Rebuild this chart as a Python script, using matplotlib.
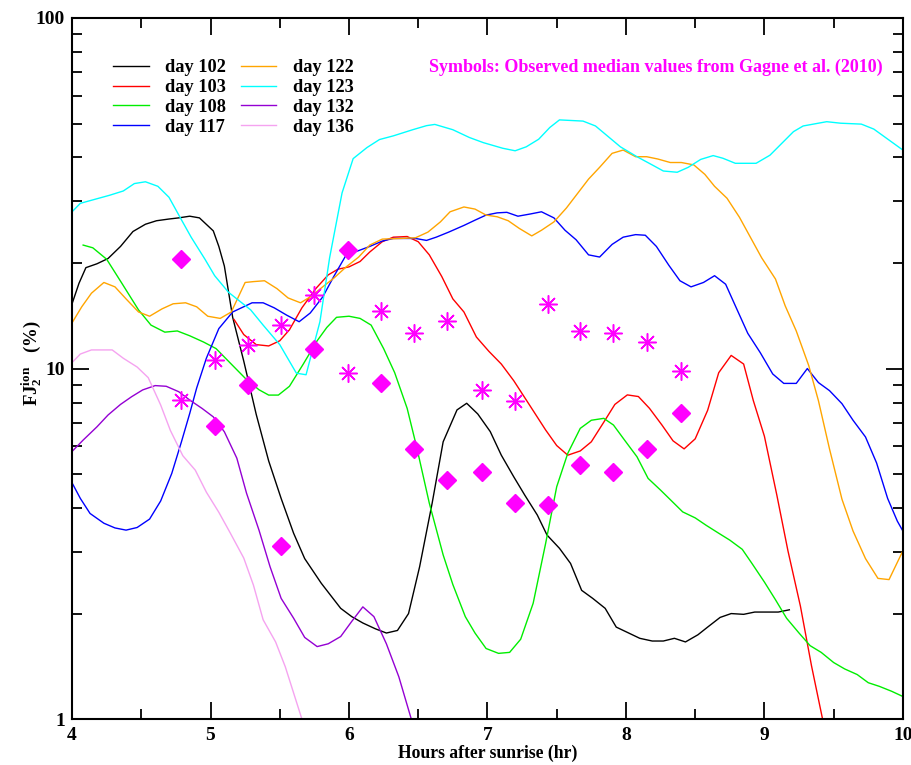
import matplotlib
matplotlib.use('Agg')
import matplotlib.pyplot as plt
from matplotlib.ticker import FixedLocator, NullFormatter, FixedFormatter, MultipleLocator

plt.rcParams['font.family'] = 'Liberation Serif'
plt.rcParams['font.weight'] = 'bold'
plt.rcParams['mathtext.fontset'] = 'custom'
plt.rcParams['mathtext.rm'] = 'Liberation Serif:bold'
plt.rcParams['mathtext.it'] = 'Liberation Serif:bold'
plt.rcParams['mathtext.bf'] = 'Liberation Serif:bold'

# model curves (hours after sunrise, FJ2 ion %)
h102 = [4.0, 4.05, 4.10, 4.18, 4.26, 4.35, 4.44, 4.53, 4.61, 4.70, 4.77, 4.85, 4.92, 5.02, 5.06, 5.10,
        5.16, 5.24, 5.33, 5.42, 5.51, 5.60, 5.68, 5.80, 5.94, 6.02, 6.10, 6.19, 6.27, 6.35, 6.43, 6.51,
        6.60, 6.68, 6.78, 6.85, 6.93, 7.02, 7.10, 7.19, 7.27, 7.36, 7.43, 7.52, 7.60, 7.68, 7.76, 7.85,
        7.93, 8.02, 8.10, 8.19, 8.27, 8.35, 8.43, 8.52, 8.59, 8.68, 8.76, 8.85, 8.93, 9.02, 9.10, 9.18]
v102 = [15.3, 17.5, 19.4, 19.9, 20.6, 22.3, 24.6, 25.8, 26.4, 26.7, 26.9, 27.2, 26.9, 24.7, 22.3, 19.6,
        14.0, 10.5, 7.4, 5.45, 4.26, 3.39, 2.87, 2.44, 2.07, 1.96, 1.88, 1.81, 1.76, 1.79, 2.0, 2.72,
        4.12, 6.18, 7.62, 7.96, 7.42, 6.61, 5.66, 4.91, 4.35, 3.82, 3.35, 3.07, 2.78, 2.33, 2.21, 2.07,
        1.83, 1.76, 1.70, 1.67, 1.67, 1.70, 1.66, 1.74, 1.83, 1.95, 2.0, 1.99, 2.02, 2.02, 2.02, 2.05]

h103 = [5.17, 5.24, 5.33, 5.42, 5.50, 5.57, 5.66, 5.76, 5.85, 5.92, 6.00, 6.08, 6.15, 6.24, 6.32, 6.42,
        6.50, 6.58, 6.67, 6.75, 6.83, 6.92, 7.01, 7.10, 7.19, 7.31, 7.42, 7.50, 7.58, 7.67, 7.75, 7.84,
        7.92, 8.01, 8.09, 8.17, 8.26, 8.34, 8.42, 8.50, 8.59, 8.67, 8.76, 8.85, 8.92, 9.00, 9.09, 9.17,
        9.26, 9.34, 9.42, 9.46]
v103 = [13.8, 12.5, 11.7, 11.6, 12.0, 12.9, 14.9, 16.9, 18.5, 19.2, 19.5, 20.2, 21.5, 23.0, 23.7, 23.8,
        23.0, 21.1, 18.3, 15.8, 14.5, 12.3, 11.2, 10.3, 9.23, 7.8, 6.68, 6.03, 5.66, 5.82, 6.18, 7.03,
        7.9, 8.41, 8.32, 7.7, 6.9, 6.22, 5.9, 6.3, 7.6, 9.73, 10.9, 10.3, 8.1, 6.41, 4.35, 3.02,
        2.10, 1.42, 1.0, 0.85]

h108 = [4.08, 4.15, 4.25, 4.36, 4.48, 4.57, 4.67, 4.76, 4.85, 4.95, 5.04, 5.16, 5.26, 5.35, 5.42, 5.49,
        5.57, 5.67, 5.77, 5.84, 5.91, 6.00, 6.08, 6.16, 6.25, 6.33, 6.42, 6.49, 6.58, 6.68, 6.75, 6.84,
        6.91, 6.99, 7.08, 7.16, 7.24, 7.33, 7.42, 7.50, 7.58, 7.67, 7.75, 7.84, 7.91, 7.99, 8.08, 8.16,
        8.25, 8.33, 8.41, 8.50, 8.58, 8.67, 8.75, 8.84, 8.91, 9.00, 9.08, 9.16, 9.25, 9.33, 9.41, 9.50,
        9.58, 9.67, 9.75, 9.83, 9.92, 10.0]
v108 = [22.5, 22.1, 20.5, 17.5, 14.7, 13.3, 12.7, 12.8, 12.4, 11.9, 11.4, 10.2, 9.3, 8.7, 8.4, 8.4,
        8.9, 10.3, 12.0, 13.1, 14.0, 14.1, 13.9, 13.3, 11.4, 9.73, 7.7, 5.94, 4.13, 2.94, 2.42, 1.96,
        1.76, 1.59, 1.54, 1.55, 1.69, 2.14, 3.17, 4.6, 5.73, 6.75, 7.12, 7.21, 6.9, 6.25, 5.6, 4.86,
        4.5, 4.19, 3.9, 3.75, 3.57, 3.39, 3.24, 3.05, 2.78, 2.46, 2.19, 1.94, 1.76, 1.62, 1.55, 1.45,
        1.39, 1.34, 1.27, 1.24, 1.2, 1.16]

h117 = [4.0, 4.06, 4.13, 4.23, 4.31, 4.39, 4.47, 4.56, 4.64, 4.72, 4.79, 4.85, 4.90, 4.97, 5.06, 5.16,
        5.30, 5.38, 5.46, 5.55, 5.64, 5.72, 5.81, 5.89, 5.98, 6.07, 6.15, 6.24, 6.32, 6.48, 6.56, 6.63,
        6.72, 6.83, 6.91, 6.99, 7.07, 7.14, 7.22, 7.31, 7.39, 7.48, 7.56, 7.64, 7.73, 7.81, 7.90, 7.98,
        8.07, 8.14, 8.22, 8.31, 8.39, 8.47, 8.56, 8.64, 8.72, 8.80, 8.88, 8.97, 9.06, 9.14, 9.23, 9.31,
        9.39, 9.47, 9.56, 9.64, 9.73, 9.81, 9.89, 9.96, 10.0]
v117 = [4.72, 4.26, 3.86, 3.62, 3.51, 3.46, 3.52, 3.72, 4.19, 5.02, 6.18, 7.45, 8.8, 10.7, 13.0, 14.5,
        15.4, 15.4, 14.9, 14.2, 13.6, 14.4, 16.0, 18.3, 21.1, 21.7, 22.3, 23.1, 23.5, 23.5, 23.2, 23.7,
        24.5, 25.6, 26.5, 27.4, 27.8, 27.9, 27.2, 27.6, 28.0, 26.9, 24.8, 23.3, 21.1, 20.8, 22.6, 23.7,
        24.1, 24.0, 22.3, 19.7, 17.8, 17.1, 17.6, 18.4, 17.4, 14.8, 12.6, 11.1, 9.65, 9.07, 9.07, 10.0,
        9.12, 8.65, 7.94, 7.12, 6.38, 5.38, 4.26, 3.67, 3.44]

h122 = [4.0, 4.07, 4.14, 4.23, 4.31, 4.39, 4.48, 4.56, 4.65, 4.73, 4.82, 4.90, 4.98, 5.07, 5.15, 5.25,
        5.31, 5.39, 5.48, 5.56, 5.65, 5.73, 5.81, 5.89, 5.98, 6.07, 6.15, 6.24, 6.37, 6.48, 6.57, 6.66,
        6.73, 6.83, 6.91, 6.99, 7.07, 7.15, 7.23, 7.32, 7.39, 7.48, 7.57, 7.73, 7.81, 7.90, 7.98, 8.07,
        8.15, 8.23, 8.32, 8.40, 8.49, 8.57, 8.64, 8.73, 8.82, 8.98, 9.08, 9.15, 9.23, 9.32, 9.39, 9.47,
        9.56, 9.64, 9.73, 9.82, 9.90, 10.0]
v122 = [13.5, 15.0, 16.4, 17.6, 17.1, 15.8, 14.5, 14.1, 14.8, 15.3, 15.4, 15.0, 14.1, 13.9, 14.5, 17.6,
        17.7, 17.8, 16.9, 15.9, 15.4, 16.1, 17.1, 18.1, 19.5, 20.8, 22.5, 23.4, 23.5, 23.6, 24.5, 26.2,
        28.0, 28.9, 28.5, 27.4, 27.1, 26.4, 25.1, 23.9, 24.8, 26.2, 28.7, 34.7, 37.5, 41.1, 42.0, 40.2,
        40.2, 39.6, 38.7, 38.7, 38.1, 35.8, 33.1, 30.6, 27.0, 20.7, 18.0, 15.1, 12.8, 10.2, 8.1, 5.9,
        4.24, 3.44, 2.87, 2.52, 2.50, 3.02]

h123 = [4.0, 4.06, 4.27, 4.37, 4.45, 4.53, 4.62, 4.70, 4.78, 4.86, 4.96, 5.03, 5.13, 5.29, 5.38, 5.50,
        5.62, 5.69, 5.79, 5.86, 5.95, 6.03, 6.13, 6.22, 6.32, 6.46, 6.56, 6.62, 6.75, 6.87, 6.97, 7.11,
        7.20, 7.28, 7.37, 7.45, 7.52, 7.69, 7.78, 7.86, 7.96, 8.08, 8.20, 8.27, 8.37, 8.45, 8.54, 8.63,
        8.70, 8.79, 8.94, 9.04, 9.21, 9.28, 9.45, 9.55, 9.70, 9.79, 10.0]
v123 = [28.0, 29.6, 31.2, 32.1, 33.7, 34.1, 33.1, 30.8, 27.0, 23.7, 20.5, 18.4, 16.5, 14.7, 13.3, 11.7,
        9.7, 9.6, 13.6, 20.7, 31.7, 39.7, 42.7, 45.0, 46.1, 48.0, 49.3, 49.7, 48.0, 45.6, 44.1, 42.5,
        41.8, 42.9, 45.1, 48.7, 51.2, 50.8, 49.2, 46.3, 42.9, 40.2, 37.9, 36.6, 36.3, 37.5, 39.5, 40.5,
        39.8, 38.5, 38.5, 40.6, 47.4, 49.2, 50.6, 50.1, 49.8, 48.2, 42.0]

h132 = [4.0, 4.08, 4.18, 4.26, 4.35, 4.43, 4.51, 4.60, 4.68, 4.77, 4.85, 4.94, 5.02, 5.10, 5.19, 5.26,
        5.35, 5.43, 5.51, 5.60, 5.68, 5.77, 5.85, 5.94, 6.02, 6.10, 6.18, 6.27, 6.36, 6.45, 6.47]
v132 = [5.8, 6.25, 6.82, 7.37, 7.9, 8.31, 8.69, 8.94, 8.9, 8.59, 8.13, 7.69, 7.28, 6.6, 5.55, 4.41,
        3.46, 2.72, 2.21, 1.94, 1.71, 1.61, 1.64, 1.72, 1.90, 2.09, 1.96, 1.64, 1.32, 1.0, 0.93]

h136 = [4.0, 4.06, 4.14, 4.29, 4.37, 4.47, 4.55, 4.64, 4.71, 4.80, 4.89, 4.97, 5.06, 5.14, 5.24, 5.31,
        5.38, 5.47, 5.54, 5.66, 5.68]
v136 = [10.4, 11.0, 11.3, 11.3, 10.7, 10.1, 9.42, 7.87, 6.66, 5.64, 5.13, 4.44, 3.89, 3.41, 2.88, 2.41,
        1.92, 1.66, 1.41, 1.0, 0.95]

# observed medians (Gagne et al. 2010)
obs_hours = [4.79, 5.03, 5.27, 5.51, 5.75, 5.99, 6.23, 6.47, 6.71, 6.96, 7.20, 7.44, 7.67, 7.91, 8.15, 8.40]
obs_diamond = [20.5, 6.86, 9.0, 3.12, 11.4, 21.8, 9.1, 5.89, 4.81, 5.08, 4.14, 4.08, 5.31, 5.08, 5.88, 7.45]
obs_star = [8.13, 10.6, 11.7, 13.3, 16.2, 9.7, 14.6, 12.6, 13.7, 8.69, 8.09, 15.3, 12.8, 12.6, 11.9, 9.84]

curves = [
    ('day 102', h102, v102, 'black'),
    ('day 103', h103, v103, '#ff0000'),
    ('day 108', h108, v108, '#00ee00'),
    ('day 117', h117, v117, '#0000ff'),
    ('day 122', h122, v122, '#ffa500'),
    ('day 123', h123, v123, '#00ffff'),
    ('day 132', h132, v132, '#9400d3'),
    ('day 136', h136, v136, '#f5a3f0'),
]

fig = plt.figure(figsize=(9.12, 7.65), dpi=100)
ax = fig.add_axes([0.079, 0.060, 0.911, 0.9165])

for name, h, v, c in curves:
    ax.plot(h, v, color=c, lw=1.0, label=name)

ax.plot(obs_hours, obs_diamond, ls='none', marker='D', ms=9, color='#ff00ff', mec='#ff00ff')
ax.plot(obs_hours, obs_star, ls='none', marker=(8, 2, 0), ms=13, mew=1.1, color='#ff00ff')

ax.set_yscale('log')
ax.set_xlim(4, 10)
ax.set_ylim(1, 100)

ax.xaxis.set_major_locator(MultipleLocator(1))
ax.xaxis.set_minor_locator(MultipleLocator(0.5))
ax.yaxis.set_major_locator(FixedLocator([1, 10, 100]))
ax.yaxis.set_major_formatter(FixedFormatter(['1', '10', '100']))
minors = [m * d for d in (1, 10) for m in range(2, 10)]
ax.yaxis.set_minor_locator(FixedLocator(minors))
ax.yaxis.set_minor_formatter(NullFormatter())

ax.tick_params(which='both', direction='in', top=True, right=True, width=1.3, labelsize=14)
ax.tick_params(which='major', length=12)
ax.tick_params(which='minor', length=7)
ax.tick_params(axis='x', pad=6)
ax.tick_params(axis='y', pad=5)
for s in ax.spines.values():
    s.set_linewidth(1.5)

ax.set_xlabel('Hours after sunrise (hr)', fontsize=12.7, fontweight='bold', labelpad=0.5)
ax.set_ylabel(r'FJ$_2^{\rm ion}$   (%)', fontsize=13.5, fontweight='bold', labelpad=-6, y=0.508)

leg = ax.legend(loc='upper left', bbox_to_anchor=(0.049, 0.9415), ncol=2, frameon=False,
                fontsize=13.2, handlelength=1.95, handletextpad=0.9, columnspacing=0.8,
                labelspacing=0.16, borderpad=0, borderaxespad=0)

ax.text(0.976, 0.929, 'Symbols: Observed median values from Gagne et al. (2010)',
        transform=ax.transAxes, ha='right', va='center', color='#ff00ff',
        fontsize=13, fontweight='bold')

fig.savefig('out.png', dpi=100)
